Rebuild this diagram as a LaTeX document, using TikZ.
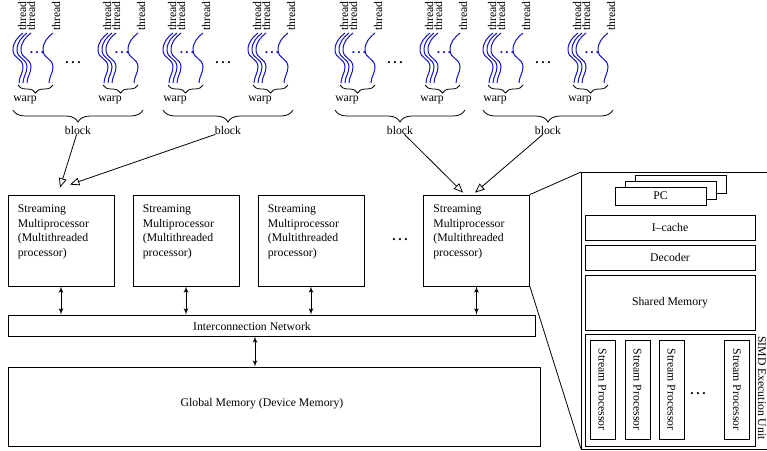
\documentclass[tikz,border=0pt]{standalone}
\usepackage{fontspec}
\setmainfont{Liberation Serif}
\usetikzlibrary{arrows,decorations.pathreplacing}
\definecolor{thblue}{RGB}{20,20,190}

\begin{document}
\begin{tikzpicture}[x=0.75pt, y=-0.75pt, inner sep=0pt,
    font=\fontsize{8.8pt}{11pt}\selectfont]
    \tikzstyle{box}=[rectangle, draw=black, line width=0.6pt, fill=white]
    \tikzstyle{smbox}=[box, minimum width=79.5pt, minimum height=68.25pt]
    \tikzstyle{smtxt}=[align=left, anchor=north west]
    \tikzstyle{unit}=[box, minimum width=127.5pt, minimum height=18.75pt]
    \tikzstyle{pcbox}=[box, minimum width=68.25pt, minimum height=13.5pt]
    \tikzstyle{spbox}=[box, rotate=-90, minimum width=74.25pt, minimum height=18.75pt]
    \tikzstyle{thr}=[draw=thblue, line width=0.75pt]
    \tikzstyle{thrlbl}=[rotate=90, anchor=west]
    \tikzstyle{bluedots}=[text=thblue, font=\fontsize{10pt}{10pt}\selectfont\bfseries]
    \tikzstyle{blackdots}=[font=\fontsize{10pt}{11pt}\selectfont\bfseries]
    \tikzstyle{wbrace}=[decorate, decoration={brace, amplitude=6pt}, line width=0.6pt]
    \tikzstyle{bbrace}=[decorate, decoration={brace, amplitude=9pt}, line width=0.6pt]
    \tikzstyle{bus}=[<->, >=latex', line width=0.6pt]
    \tikzstyle{toblk}=[->, >=open triangle 45, line width=0.6pt]

    \useasboundingbox (0,0) rectangle (767,450);

    % threads and warps
    \foreach \wx in {25,110,175,260,347,432,495,580}
        \foreach \ox in {-2,2,6,28}
            \draw[thr] ({\wx+\ox},33) .. controls +(-5,4) and +(0,-8) .. ++(-10,17) .. controls +(0,9) and +(0,-9) .. ++(10,17) .. controls +(0,6) and +(0,-6) .. ++(-4,16);
    \foreach \wx in {25,110,175,260,347,432,495,580}
        \node[thrlbl] (tha\wx) at ({\wx-3},31) {thread};
    \foreach \wx in {25,110,175,260,347,432,495,580}
        \node[thrlbl] (thb\wx) at ({\wx+6},31) {thread};
    \foreach \wx in {25,110,175,260,347,432,495,580}
        \node[thrlbl] (thc\wx) at ({\wx+31},31) {thread};
    \foreach \wx in {25,110,175,260,347,432,495,580}
        \node[bluedots] (bd\wx) at ({\wx+12},53) {.\kern1.6pt.\kern1.6pt.};
    \foreach \wx in {25,110,175,260,347,432,495,580}
        \draw[wbrace] ({\wx+28},85) -- ({\wx-7},85);
    \foreach \wx in {25,110,175,260,347,432,495,580}
        \node (wp\wx) at (\wx,100) {warp};

    % blocks
    \foreach \bx/\bn in {25/1,175/2,347/3,495/4}
        \node[blackdots] (kd\bn) at ({\bx+48},63) {.\kern2pt.\kern2pt.};
    \foreach \bx/\bn in {25/1,175/2,347/3,495/4}
        \draw[bbrace] ({\bx+118},110) -- ({\bx-12},110);
    \foreach \bx/\bn in {25/1,175/2,347/3,495/4}
        \node (blk\bn) at ({\bx+53},130) {block};

    % streaming multiprocessors
    \node[smbox] (sm1) at (61,240.5) {};
    \node[smbox] (sm2) at (186,240.5) {};
    \node[smbox] (sm3) at (311,240.5) {};
    \node[smbox] (sm4) at (476.5,240.5) {};
    \foreach \i in {1,...,4}
        \node[smtxt] (smt\i) at ([xshift=7.5pt,yshift=-7.5pt]sm\i.north west)
            {Streaming\\Multiprocessor\\(Multithreaded\\processor)};
    \node[blackdots] (smdots) at (400,240) {.\kern2pt.\kern2pt.};

    \draw[toblk] (blk1) -- ([xshift=-0.75pt,yshift=5.25pt]sm1.north);
    \draw[toblk] (blk2) -- ([xshift=6.75pt,yshift=7.5pt]sm1.north);
    \draw[toblk] (blk3) -- ([xshift=-10.1pt,yshift=1.5pt]sm4.north);
    \draw[toblk] (blk4) -- ([xshift=-1.1pt,yshift=1.5pt]sm4.north);

    % network and memory
    \node[box, minimum width=395.25pt, minimum height=15.75pt] (net) at (271.5,325.5) {};
    \node (netl) at (252,326) {Interconnection Network};
    \node[box, minimum width=399pt, minimum height=59.25pt] (gmem) at (274,406.5) {};
    \node (gmeml) at (262,404) {Global Memory (Device Memory)};

    \foreach \i in {1,...,4}
        \draw[bus] (sm\i.south) -- (sm\i.south |- net.north);
    \coordinate (nb) at ([xshift=-12.4pt]net.south);
    \draw[bus] (nb) -- (nb |- gmem.north);

    % detail of one multiprocessor
    \coordinate (pnw) at (581,172);
    \coordinate (psw) at (581,449);
    \draw[line width=0.6pt] (767,172) -- (pnw) -- (psw) -- (767,449);
    \draw[line width=0.6pt] (sm4.north east) -- (pnw);
    \draw[line width=0.6pt] (sm4.south east) -- (psw);

    \node[pcbox] (pc3) at (680.5,184) {};
    \node[pcbox] (pc2) at (670.5,190) {};
    \node[pcbox] (pc1) at (660.5,196) {PC};
    \node[unit] (icache) at (670,227.5) {I--cache};
    \node[unit] (dec) at (670,257.5) {Decoder};
    \node[unit, minimum height=41.25pt] (shmem) at (670,302.5) {Shared Memory};

    \node[box, minimum width=127.5pt, minimum height=84pt] (simd) at (670,390) {};
    \node[rotate=-90] (simdl) at (762,388) {SIMD Execution Unit};
    \node[spbox] (sp1) at (602.5,389.5) {Stream Processor};
    \node[spbox] (sp2) at (637.5,389.5) {Stream Processor};
    \node[spbox] (sp3) at (671.5,389.5) {Stream Processor};
    \node[spbox] (sp4) at (737,389.5) {Stream Processor};
    \node[blackdots] (spdots) at (698,394) {.\kern2pt.\kern2pt.};
\end{tikzpicture}
\end{document}
